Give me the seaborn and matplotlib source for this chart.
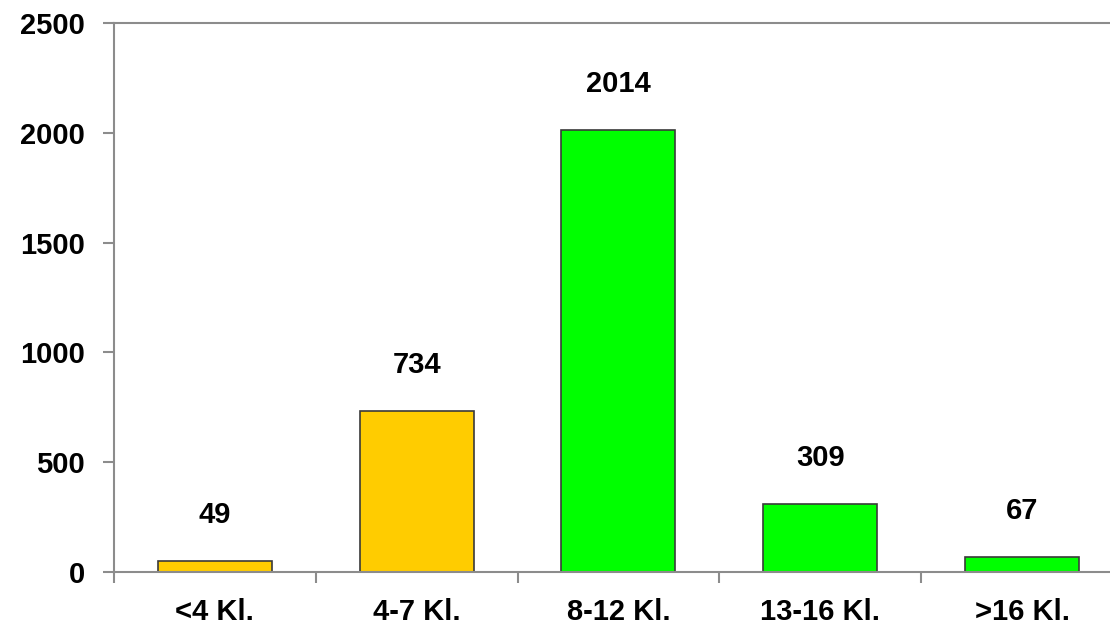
import matplotlib
matplotlib.use("Agg")
import matplotlib.pyplot as plt
import seaborn as sns
import numpy as np

# ── Data ──────────────────────────────────────────────────────────────────────
CATEGORIES = ["<4 Kl.", "4-7 Kl.", "8-12 Kl.", "13-16 Kl.", ">16 Kl."]
VALUES     = [49, 734, 2014, 309, 67]
COLORS     = ["#FFCC00", "#FFCC00", "#00FF00", "#00FF00", "#00FF00"]
Y_TICKS    = [0, 500, 1000, 1500, 2000, 2500]

sns.set_style("white")
plt.rcParams["font.family"] = ["Liberation Sans", "DejaVu Sans"]
plt.rcParams["font.weight"] = "bold"
plt.rcParams["text.color"] = "black"
plt.rcParams["xtick.labelcolor"] = "black"
plt.rcParams["ytick.labelcolor"] = "black"

AXIS_GRAY = "#8c8c8c"
FS = 21

# ── Plot ──────────────────────────────────────────────────────────────────────
fig = plt.figure(figsize=(11.1, 6.38), dpi=100)
ax = fig.add_axes([0.1027, 0.1034, 0.909, 0.8606])

sns.barplot(x=CATEGORIES, y=VALUES, hue=CATEGORIES, palette=COLORS,
            legend=False, width=0.565, edgecolor="#3a3a3a", linewidth=1.2,
            saturation=1, ax=ax)

for i, v in enumerate(VALUES):
    ax.annotate(str(v), (i, v), xytext=(0, 23), textcoords="offset points",
                ha="center", va="bottom", fontsize=FS, fontweight="bold",
                color="black")

ax.set_xlim(-0.5, 4.5)
ax.set_ylim(0, 2500)
ax.set_yticks(Y_TICKS)
ax.set_yticklabels([str(t) for t in Y_TICKS], fontsize=FS, fontweight="bold",
                   color="black")

# labels at category centres, tick marks at the category boundaries
ax.set_xticks(range(len(CATEGORIES)))
ax.set_xticklabels(CATEGORIES, fontsize=FS, fontweight="bold", color="black")
ax.set_xticks(np.arange(-0.5, len(CATEGORIES), 1.0), minor=True)
ax.tick_params(axis="x", which="major", length=0, pad=19)
ax.tick_params(axis="x", which="minor", length=8, width=1.5,
               color=AXIS_GRAY, direction="out", bottom=True)
ax.tick_params(axis="y", length=8, width=1.5, color=AXIS_GRAY,
               direction="out", left=True, pad=13)

ax.set_xlabel("")
ax.set_ylabel("")
for side in ["left", "bottom", "top"]:
    ax.spines[side].set_color(AXIS_GRAY)
    ax.spines[side].set_linewidth(1.5)
ax.spines["right"].set_visible(False)

fig.savefig("out.png", dpi=100)
